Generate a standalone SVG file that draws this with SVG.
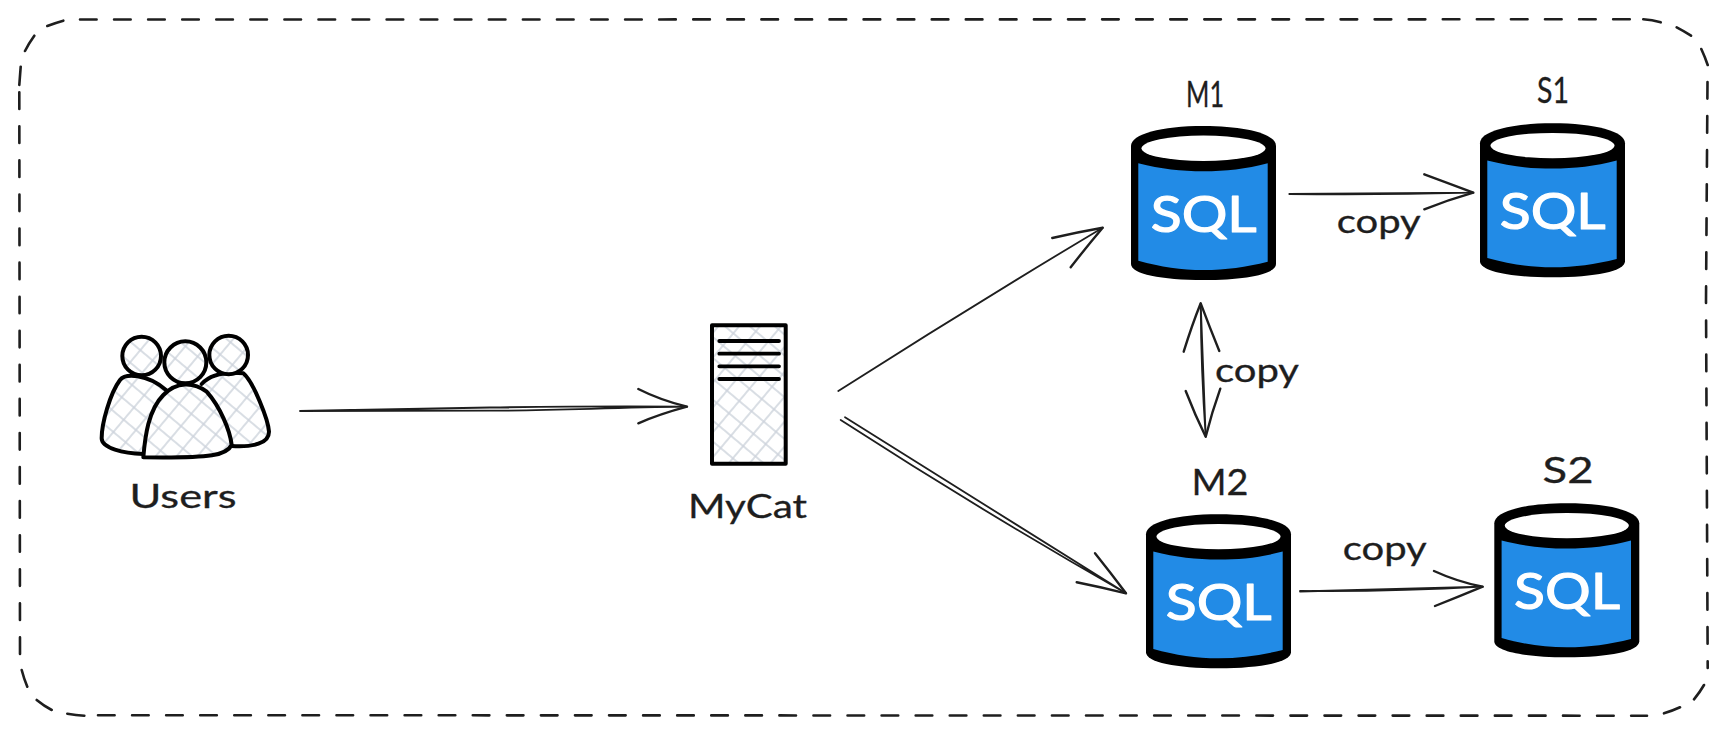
<svg xmlns="http://www.w3.org/2000/svg" width="1728" height="736" viewBox="0 0 1728 736">
<style>
.lbl{font-family:"Lato","Noto Sans",sans-serif;font-size:32px;fill:#1e1e1e;stroke:#1e1e1e;stroke-width:.3px}
.big{font-size:36px}
.sql{font-family:"Lato","Noto Sans",sans-serif;font-size:51px;fill:#fff;stroke:#fff;stroke-width:1.2px;stroke-linejoin:round}
.ln{fill:none;stroke:#1e1e1e;stroke-width:1.8;stroke-linecap:round;stroke-linejoin:round}
.head{fill:none;stroke:#1e1e1e;stroke-width:2.4;stroke-linecap:round;stroke-linejoin:round}
.frame{fill:none;stroke:#1e1e1e;stroke-width:2.6;stroke-linecap:round}
.dash{stroke-dasharray:16.6 17.47}
.person{stroke:#000;stroke-width:12;stroke-linejoin:round;stroke-linecap:round;fill:url(#hatch3)}
.bar{stroke:#000;stroke-width:3.8;stroke-linecap:round}
</style>
<defs>
<pattern id="hatch" width="16" height="16" patternUnits="userSpaceOnUse" patternTransform="rotate(40)">
<rect width="16" height="16" fill="#fff"/><path d="M0 8H16M8 0V16" stroke="#cdd3dc" stroke-width="1.5" fill="none"/>
</pattern>
<pattern id="hatch3" width="48" height="48" patternUnits="userSpaceOnUse" patternTransform="rotate(40)">
<rect width="48" height="48" fill="#fff"/><path d="M0 24H48M24 0V48" stroke="#cdd3dc" stroke-width="4.500" fill="none"/>
</pattern>
<g id="cyl">
<path d="M0 20C0 8 30 0 72.5 0S145 8 145 20V138C145 148 115 154 72.5 154S0 148 0 138Z" fill="#000"/>
<ellipse cx="72.5" cy="22.3" rx="62" ry="12.7" fill="#fff"/>
<path d="M7.3 37.3C30 43 50 45.3 72.5 45.3S115 43 136.7 37.3V135.7C115 141 95 144 72.5 144S30 141 7.3 134.7Z" fill="#228be6"/>
</g>
</defs>
<rect width="1728" height="736" fill="#fff"/>
<g id="frame">
<path class="frame dash" d="M80 19.500L1631 19.300M1707.500 82L1706 300L1707.700 668M98 715.200L1647 715.700M20 654L19.300 90"/>
<path class="frame" d="M1643.300 19.300Q1652 20 1660.700 22.300M1676.700 27.300Q1684 31 1691 35.700M1701.300 49Q1705 57 1707.700 65M1704 685Q1700 692 1694 699.300M1680 707.300Q1672 711 1664 713.300M21.700 670Q24 679 27.300 686.700M36.700 700Q44 706 51.700 710M67.300 713.700Q76 715 84.300 715.700M20.700 66.700L19.300 85M25 51Q29 43 34.300 35.700M47.300 26Q55 23 63.300 20.700"/>
</g>
<g id="connectors">
<path class="ln" d="M300 411C350 410.500 420 408.500 490 407.500S600 406 687 406.700M300 411C350 411 420 411 490 410.700S600 408 687 406.700"/>
<path class="head" d="M638.300 389Q660 400 687 406.700Q660 414 638.300 423.300"/>
<path class="ln" d="M838.300 391Q970 307 1102.700 227.700"/>
<path class="head" d="M1052.300 238Q1078 232 1102.700 227.700Q1088 245 1070.700 267.300"/>
<path class="ln" d="M840.700 420Q980 510 1126 593.300M845 417.300Q985 505 1126 593.300"/>
<path class="head" d="M1095 553.300Q1110 572 1126 593.300Q1100 587 1076.700 582.300"/>
<path class="ln" d="M1289.300 194Q1380 193 1473.300 192.700M1289.300 194Q1380 195 1473.300 192.700"/>
<path class="head" d="M1424.300 174.300Q1448 183 1473.300 192.700Q1448 200 1424.300 209.300"/>
<path class="ln" d="M1200.700 303.300Q1201 370 1205.700 436.700M1200.700 303.300Q1203 370 1205.700 436.700"/>
<path class="head" d="M1183.700 351.700Q1192 325 1200.700 303.300Q1210 328 1219.300 351"/>
<path class="head" d="M1185.700 391Q1195 415 1205.700 436.700Q1212 412 1220.300 388.700"/>
<path class="ln" d="M1300 591Q1390 592 1482.700 586.700M1300 591.500Q1390 589 1482.700 586.700"/>
<path class="head" d="M1434 571Q1458 582 1482.700 586.700Q1458 597 1435 606"/>
<text class="lbl" x="1336.700" y="232.700" textLength="84" lengthAdjust="spacingAndGlyphs">copy</text>
<text class="lbl" x="1215" y="381.700" textLength="84" lengthAdjust="spacingAndGlyphs">copy</text>
<text class="lbl" x="1342.700" y="560" textLength="84" lengthAdjust="spacingAndGlyphs">copy</text>
</g>
<g id="users">
<g transform="translate(80 310) scale(.33333)">
<path class="person" d="M190 432C130 430 65 415 65 385C65 340 90 250 120 210C135 190 200 190 258 240"/>
<path class="person" d="M365 222C395 190 440 185 490 190C520 215 565 330 567 365C567 400 520 412 455 408"/>
<circle class="person" cx="185" cy="138" r="58"/>
<circle class="person" cx="446" cy="135" r="58"/>
<circle class="person" cx="316" cy="157" r="63"/>
<path class="person" d="M190 442C195 380 205 300 250 255C290 215 340 215 380 245C420 290 450 360 455 405C440 435 400 445 190 442Z"/>
</g>
<text class="lbl" x="129.500" y="508" textLength="107" lengthAdjust="spacingAndGlyphs">Users</text>
</g>
<g id="mycat">
<rect x="712" y="325.300" width="73.700" height="138.400" fill="url(#hatch)" stroke="#000" stroke-width="4" stroke-linejoin="round"/>
<path class="bar" d="M719.300 341H779M719.300 353.700H779M719.300 366.300H779M719.300 379H779"/>
<text class="lbl" x="688" y="518" textLength="119" lengthAdjust="spacingAndGlyphs">MyCat</text>
</g>
<g id="m1">
<use href="#cyl" x="1131" y="126"/>
<text class="sql" x="1150.700" y="231.700" textLength="106" lengthAdjust="spacingAndGlyphs">SQL</text>
<text class="lbl big" x="1186" y="107" textLength="38" lengthAdjust="spacingAndGlyphs">M1</text>
</g>
<g id="s1">
<use href="#cyl" x="1480" y="123.300"/>
<text class="sql" x="1499.700" y="229" textLength="106" lengthAdjust="spacingAndGlyphs">SQL</text>
<text class="lbl big" x="1537" y="103" textLength="32" lengthAdjust="spacingAndGlyphs">S1</text>
</g>
<g id="m2">
<use href="#cyl" x="1146" y="514.300"/>
<text class="sql" x="1165.700" y="620" textLength="106" lengthAdjust="spacingAndGlyphs">SQL</text>
<text class="lbl big" x="1191.500" y="495" textLength="57" lengthAdjust="spacingAndGlyphs">M2</text>
</g>
<g id="s2">
<use href="#cyl" x="1494.300" y="503.300"/>
<text class="sql" x="1514" y="609" textLength="106" lengthAdjust="spacingAndGlyphs">SQL</text>
<text class="lbl big" x="1542.500" y="483" textLength="51" lengthAdjust="spacingAndGlyphs">S2</text>
</g>
</svg>
